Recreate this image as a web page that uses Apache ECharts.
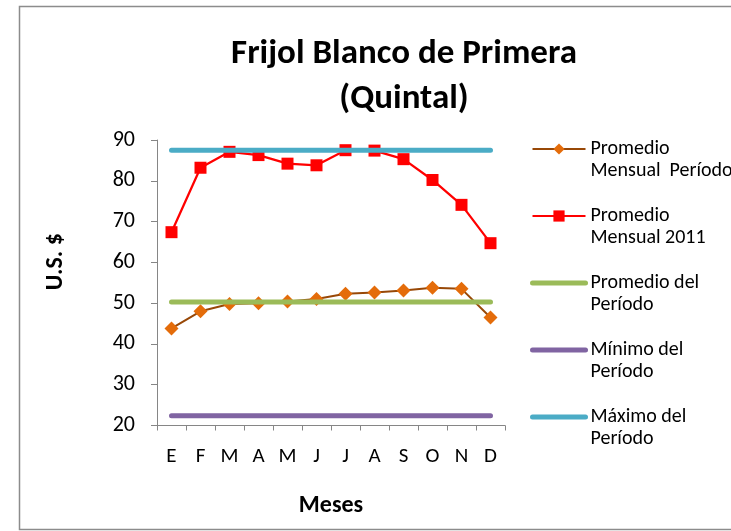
<!DOCTYPE html>
<html>
<head>
<meta charset="utf-8">
<script src="https://cdn.jsdelivr.net/npm/echarts@6/dist/echarts.min.js"></script>
<style>
  html, body { margin: 0; padding: 0; background: #ffffff; }
  #chart { width: 731px; height: 531px; }
</style>
</head>
<body>
<div id="chart"></div>
<script>
// Month initials (Spanish)
var meses = ['E', 'F', 'M', 'A', 'M', 'J', 'J', 'A', 'S', 'O', 'N', 'D'];

// Monthly average over the period (US$ per quintal)
var promedioMensualPeriodo = [43.8, 48.0, 49.8, 50.0, 50.4, 51.0, 52.3, 52.6, 53.1, 53.8, 53.5, 46.5];
// Monthly average for 2011
var promedioMensual2011 = [67.4, 83.2, 87.1, 86.3, 84.2, 83.8, 87.5, 87.4, 85.3, 80.2, 74.1, 64.7];
// Period reference levels, one value per month
var promedioDelPeriodo = [50.3, 50.3, 50.3, 50.3, 50.3, 50.3, 50.3, 50.3, 50.3, 50.3, 50.3, 50.3];
var minimoDelPeriodo = [22.4, 22.4, 22.4, 22.4, 22.4, 22.4, 22.4, 22.4, 22.4, 22.4, 22.4, 22.4];
var maximoDelPeriodo = [87.5, 87.5, 87.5, 87.5, 87.5, 87.5, 87.5, 87.5, 87.5, 87.5, 87.5, 87.5];

// Series names as shown in the legend
var nombres = [
  'Promedio\nMensual  Período',
  'Promedio\nMensual 2011',
  'Promedio del\nPeríodo',
  'Mínimo del\nPeríodo',
  'Máximo del\nPeríodo'
];

// Y axis range
var yMin = 20, yMax = 90, yStep = 10;

var FONT = 'Carlito, Calibri, "Open Sans", "Liberation Sans", sans-serif';
var axisGray = '#868686';

var chart = echarts.init(document.getElementById('chart'), null, { renderer: 'canvas' });

// Thick reference lines: legend shows just the line, no marker
function bandLegend(name, color) {
  return {
    name: name,
    itemStyle: { opacity: 0 },
    lineStyle: { color: color, width: 5, cap: 'round' }
  };
}

var option = {
  animation: false,
  backgroundColor: '#ffffff',
  textStyle: { fontFamily: FONT },
  title: {
    text: 'Frijol Blanco de Primera\n(Quintal)',
    left: 399,
    textAlign: 'center',
    top: 27,
    textStyle: { fontFamily: FONT, fontSize: 35, fontWeight: 'bold', color: '#000', lineHeight: 45 }
  },
  graphic: [{
    type: 'rect',
    shape: { x: 19.5, y: 6.5, width: 760, height: 523 },
    style: { fill: null, stroke: '#8c8c8c', lineWidth: 1.5 },
    silent: true
  }],
  legend: {
    orient: 'vertical',
    left: 530,
    top: 116,
    padding: 0,
    itemWidth: 53,
    itemHeight: 14,
    itemGap: 1,
    formatter: function (name) { return '\n' + name; },
    textStyle: { fontFamily: FONT, fontSize: 20, color: '#000', lineHeight: 22 },
    data: [
      { name: nombres[0], lineStyle: { width: 2 } },
      { name: nombres[1], lineStyle: { width: 2 } },
      bandLegend(nombres[2], '#9BBB59'),
      bandLegend(nombres[3], '#8064A2'),
      bandLegend(nombres[4], '#4BACC6')
    ]
  },
  grid: { left: 157, right: 226, top: 140, bottom: 105.5, containLabel: false },
  xAxis: {
    type: 'category',
    data: meses,
    boundaryGap: true,
    name: 'Meses',
    nameLocation: 'middle',
    nameGap: 68,
    nameTextStyle: { fontFamily: FONT, fontSize: 24, fontWeight: 'bold', color: '#000' },
    axisLine: { show: true, lineStyle: { color: axisGray, width: 1 } },
    axisTick: { show: true, alignWithLabel: false, length: 5, lineStyle: { color: axisGray } },
    axisLabel: { fontFamily: FONT, fontSize: 21, color: '#000', margin: 21 },
    splitLine: { show: false }
  },
  yAxis: {
    type: 'value',
    min: yMin,
    max: yMax,
    interval: yStep,
    name: 'U.S. $',
    nameLocation: 'middle',
    nameGap: 89,
    nameRotate: 90,
    nameTextStyle: { fontFamily: FONT, fontSize: 24, fontWeight: 'bold', color: '#000', padding: [0, 0, 0, 42] },
    axisLine: { show: true, lineStyle: { color: axisGray, width: 1 } },
    axisTick: { show: true, length: 6, lineStyle: { color: axisGray } },
    axisLabel: { fontFamily: FONT, fontSize: 22, color: '#000', margin: 22 },
    splitLine: { show: false }
  },
  series: [
    {
      name: nombres[0],
      type: 'line',
      data: promedioMensualPeriodo,
      symbol: 'diamond',
      symbolSize: 14,
      lineStyle: { color: '#984807', width: 2 },
      itemStyle: { color: '#E46C0A' },
      z: 2
    },
    {
      name: nombres[1],
      type: 'line',
      data: promedioMensual2011,
      symbol: 'rect',
      symbolSize: 12,
      lineStyle: { color: '#FF0000', width: 2.25 },
      itemStyle: { color: '#FF0000' },
      z: 3
    },
    {
      name: nombres[2],
      type: 'line',
      data: promedioDelPeriodo,
      symbol: 'none',
      lineStyle: { color: '#9BBB59', width: 5, cap: 'round' },
      itemStyle: { color: '#9BBB59' },
      z: 4
    },
    {
      name: nombres[3],
      type: 'line',
      data: minimoDelPeriodo,
      symbol: 'none',
      lineStyle: { color: '#8064A2', width: 5, cap: 'round' },
      itemStyle: { color: '#8064A2' },
      z: 5
    },
    {
      name: nombres[4],
      type: 'line',
      data: maximoDelPeriodo,
      symbol: 'none',
      lineStyle: { color: '#4BACC6', width: 5, cap: 'round' },
      itemStyle: { color: '#4BACC6' },
      z: 6
    }
  ]
};

chart.setOption(option);
</script>
</body>
</html>
